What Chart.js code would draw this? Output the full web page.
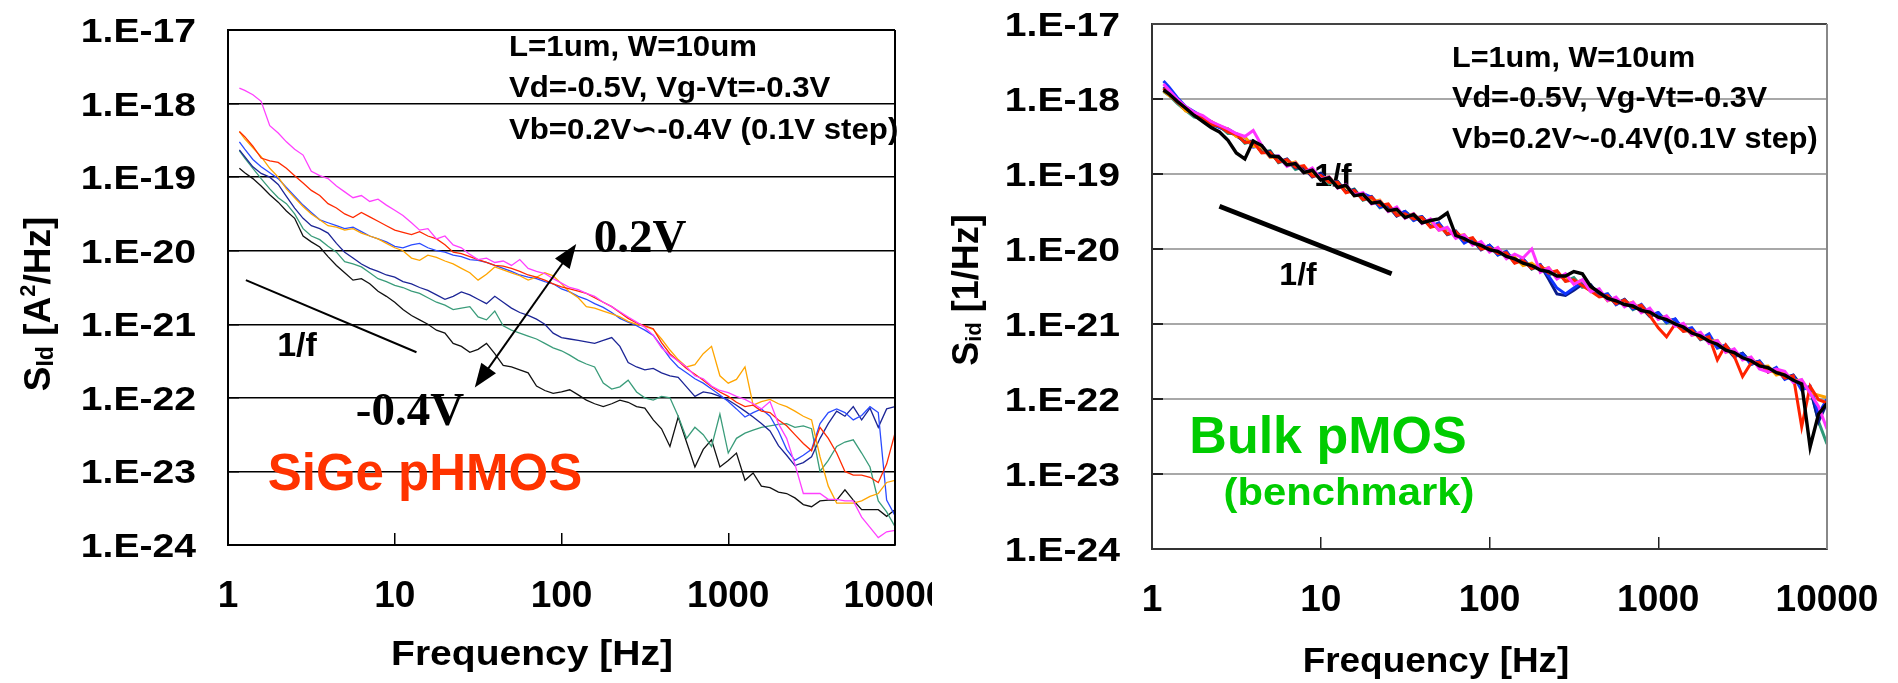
<!DOCTYPE html>
<html>
<head>
<meta charset="utf-8">
<title>1/f noise: SiGe pHMOS vs Bulk pMOS</title>
<script src="https://cdn.jsdelivr.net/npm/chart.js@4.4.1/dist/chart.umd.min.js"></script>
<style>
  html, body { margin: 0; padding: 0; background: #fff; }
  body { position: relative; width: 1898px; height: 683px; overflow: hidden; }
  .panel { position: absolute; top: 0; height: 683px; overflow: hidden; }
  #sigePanel { left: 0; width: 932px; }
  #bulkPanel { left: 932px; width: 966px; }
</style>
</head>
<body>
<div class="panel" id="sigePanel"><canvas id="sigeChart" width="932" height="683"></canvas></div>
<div class="panel" id="bulkPanel"><canvas id="bulkChart" width="966" height="683"></canvas></div>
<script>
// frequency points (Hz) shared by all traces
const freqHz = [
    1.17, 1.26, 1.41, 1.58, 1.78, 2, 2.24, 2.51, 2.82, 3.16,
    3.55, 3.98, 4.47, 5.01, 5.62, 6.31, 7.08, 7.94, 8.91, 10,
    11.2, 12.6, 14.1, 15.8, 17.8, 20, 22.4, 25.1, 28.2, 31.6,
    35.5, 39.8, 44.7, 50.1, 56.2, 63.1, 70.8, 79.4, 89.1, 100,
    112, 126, 141, 158, 178, 200, 224, 251, 282, 316,
    355, 398, 447, 501, 562, 631, 708, 794, 891, 1000,
    1120, 1260, 1410, 1580, 1780, 2000, 2240, 2510, 2820, 3160,
    3550, 3980, 4470, 5010, 5620, 6310, 7080, 7940, 8910, 10000
];

const xTickValues = [1, 10, 100, 1000, 10000];
const xTickLabels = ['1', '10', '100', '1000', '10000'];
const yTickValues = [1e-24, 1e-23, 1e-22, 1e-21, 1e-20, 1e-19, 1e-18, 1e-17];
const yTickLabels = ['1.E-24', '1.E-23', '1.E-22', '1.E-21', '1.E-20', '1.E-19', '1.E-18', '1.E-17'];

const vbLabels = ['Vb=0.2V', 'Vb=0.1V', 'Vb=0V', 'Vb=-0.1V', 'Vb=-0.2V', 'Vb=-0.3V', 'Vb=-0.4V'];

// SiGe pHMOS: log10(Sid)
const sigeVb02 = [
    -17.79, -17.82, -17.88, -17.97, -18.30, -18.40, -18.52, -18.62, -18.70, -18.92,
    -18.98, -19.02, -19.12, -19.20, -19.28, -19.25, -19.33, -19.30, -19.38, -19.45,
    -19.52, -19.62, -19.72, -19.70, -19.84, -19.80, -19.92, -19.96, -20.05, -20.12,
    -20.10, -20.16, -20.14, -20.20, -20.12, -20.24, -20.28, -20.31, -20.38, -20.44,
    -20.50, -20.53, -20.58, -20.62, -20.70, -20.76, -20.83, -20.90, -20.97, -21.04,
    -21.15, -21.32, -21.42, -21.50, -21.58, -21.70, -21.74, -21.84, -21.90, -21.93,
    -21.98, -22.02, -22.08, -22.15, -22.05, -22.35, -22.55, -22.90, -23.30, -23.30,
    -23.30, -23.38, -23.38, -23.40, -23.40, -23.62, -23.76, -23.90, -23.82, -23.80
];
const sigeVb01 = [
    -18.38, -18.45, -18.58, -18.74, -18.78, -18.80, -18.88, -18.98, -19.08, -19.18,
    -19.25, -19.36, -19.42, -19.50, -19.55, -19.48, -19.54, -19.60, -19.66, -19.72,
    -19.75, -19.78, -19.74, -19.80, -19.84, -19.92, -20.02, -20.04, -20.08, -20.12,
    -20.16, -20.20, -20.21, -20.24, -20.28, -20.33, -20.36, -20.40, -20.45, -20.49,
    -20.52, -20.55, -20.58, -20.64, -20.70, -20.76, -20.84, -20.92, -20.98, -21.02,
    -21.06, -21.25, -21.40, -21.50, -21.60, -21.68, -21.76, -21.85, -21.92, -21.98,
    -22.06, -22.12, -22.10, -22.18, -22.20, -22.30, -22.38, -22.50, -22.62, -22.72,
    -22.40, -22.55, -22.75, -23.00, -23.05, -23.05, -23.08, -23.15, -22.90, -22.48
];
const sigeVb00 = [
    -18.38, -18.48, -18.60, -18.72, -18.88, -19.00, -19.16, -19.28, -19.40, -19.50,
    -19.58, -19.66, -19.68, -19.72, -19.70, -19.76, -19.80, -19.84, -19.90, -19.96,
    -20.00, -20.10, -20.13, -20.06, -20.09, -20.14, -20.18, -20.24, -20.30, -20.40,
    -20.32, -20.22, -20.26, -20.30, -20.34, -20.40, -20.36, -20.30, -20.34, -20.45,
    -20.56, -20.64, -20.76, -20.78, -20.82, -20.86, -20.90, -20.96, -21.00, -21.03,
    -21.07, -21.20, -21.35, -21.48, -21.58, -21.55, -21.40, -21.30, -21.70, -21.80,
    -21.75, -21.58, -22.10, -22.05, -22.02, -22.08, -22.12, -22.18, -22.25, -22.30,
    -22.80, -23.20, -23.43, -23.43, -23.43, -23.40, -23.34, -23.30, -23.15, -23.12
];
const sigeVbm01 = [
    -18.52, -18.62, -18.76, -18.86, -18.94, -19.02, -19.14, -19.26, -19.38, -19.48,
    -19.58, -19.62, -19.66, -19.70, -19.68, -19.74, -19.80, -19.84, -19.88, -19.94,
    -19.96, -19.92, -19.90, -19.96, -20.00, -20.02, -20.06, -20.08, -20.12, -20.13,
    -20.16, -20.20, -20.24, -20.28, -20.33, -20.36, -20.38, -20.42, -20.45, -20.52,
    -20.56, -20.62, -20.66, -20.72, -20.77, -20.84, -20.92, -20.97, -21.02, -21.08,
    -21.15, -21.30, -21.46, -21.58, -21.66, -21.74, -21.80, -21.88, -21.96, -22.05,
    -22.15, -22.26, -22.20, -22.15, -22.25, -22.45, -22.70, -22.85, -22.78, -22.70,
    -22.35, -22.20, -22.15, -22.20, -22.30, -22.24, -22.12, -22.20, -23.39, -23.60
];
const sigeVbm02 = [
    -18.63, -18.72, -18.86, -18.95, -19.00, -19.10, -19.26, -19.42, -19.56, -19.66,
    -19.70, -19.76, -19.90, -20.02, -20.10, -20.18, -20.24, -20.28, -20.33, -20.36,
    -20.42, -20.45, -20.50, -20.54, -20.60, -20.66, -20.62, -20.56, -20.60, -20.66,
    -20.72, -20.62, -20.70, -20.78, -20.84, -20.88, -20.93, -21.00, -21.12, -21.18,
    -21.20, -21.22, -21.24, -21.26, -21.22, -21.18, -21.30, -21.52, -21.58, -21.62,
    -21.60, -21.66, -21.70, -21.72, -21.85, -21.98, -21.92, -21.94, -21.98, -22.03,
    -22.10, -22.18, -22.26, -22.35, -22.45, -22.65, -22.78, -22.92, -22.88, -22.80,
    -22.55, -22.35, -22.18, -22.25, -22.12, -22.30, -22.14, -22.40, -22.15, -22.12
];
const sigeVbm03 = [
    -18.64, -18.74, -18.88, -19.02, -19.16, -19.28, -19.36, -19.50, -19.70, -19.80,
    -19.85, -19.94, -20.02, -20.15, -20.18, -20.22, -20.30, -20.38, -20.42, -20.47,
    -20.50, -20.55, -20.58, -20.64, -20.70, -20.74, -20.80, -20.78, -20.76, -20.90,
    -20.94, -20.82, -21.02, -21.08, -21.12, -21.16, -21.20, -21.26, -21.32, -21.36,
    -21.42, -21.49, -21.54, -21.58, -21.80, -21.88, -21.85, -21.76, -21.92, -22.00,
    -22.03, -21.98, -22.00, -22.25, -22.55, -22.40, -22.50, -22.66, -22.22, -22.75,
    -22.55, -22.48, -22.44, -22.40, -22.38, -22.36, -22.35, -22.40, -22.38, -22.42,
    -23.00, -22.85, -22.66, -22.60, -22.57, -22.75, -22.94, -23.40, -23.55, -23.75
];
const sigeVbm04 = [
    -18.88, -18.94, -19.02, -19.12, -19.24, -19.34, -19.46, -19.56, -19.80, -19.88,
    -19.95, -20.08, -20.20, -20.30, -20.40, -20.38, -20.45, -20.55, -20.62, -20.70,
    -20.80, -20.88, -20.94, -21.00, -21.08, -21.12, -21.26, -21.30, -21.38, -21.34,
    -21.26, -21.40, -21.56, -21.58, -21.62, -21.66, -21.84, -21.90, -21.94, -21.92,
    -21.89, -21.96, -22.03, -22.08, -22.12, -22.08, -22.03, -22.06, -22.12, -22.14,
    -22.30, -22.42, -22.66, -22.26, -22.60, -22.94, -22.70, -22.57, -22.94, -22.85,
    -22.75, -23.12, -23.02, -23.20, -23.22, -23.28, -23.30, -23.36, -23.45, -23.48,
    -23.40, -23.39, -23.39, -23.25, -23.39, -23.52, -23.52, -23.52, -23.61, -23.52
];

// Bulk pMOS: log10(Sid)
const bulkVb02 = [
    -17.80, -17.88, -18.00, -18.10, -18.18, -18.22, -18.30, -18.35, -18.40, -18.46,
    -18.50, -18.42, -18.62, -18.77, -18.76, -18.90, -18.85, -18.98, -18.92, -19.07,
    -19.04, -19.19, -19.14, -19.28, -19.25, -19.40, -19.36, -19.50, -19.44, -19.59,
    -19.53, -19.66, -19.60, -19.75, -19.71, -19.86, -19.81, -19.95, -19.90, -20.04,
    -19.98, -20.13, -20.07, -20.12, -20.00, -20.31, -20.25, -20.40, -20.33, -20.47,
    -20.41, -20.57, -20.53, -20.69, -20.64, -20.77, -20.71, -20.85, -20.79, -20.94,
    -20.89, -21.03, -20.99, -21.15, -21.11, -21.26, -21.22, -21.38, -21.33, -21.48,
    -21.44, -21.60, -21.64, -21.60, -21.63, -21.78, -21.74, -21.92, -22.10, -22.40
];
const bulkVb01 = [
    -17.86, -17.93, -18.04, -18.12, -18.22, -18.25, -18.34, -18.36, -18.44, -18.47,
    -18.58, -18.57, -18.72, -18.71, -18.84, -18.81, -18.91, -18.89, -19.03, -19.02,
    -19.11, -19.11, -19.25, -19.22, -19.34, -19.31, -19.42, -19.40, -19.55, -19.53,
    -19.60, -19.58, -19.71, -19.68, -19.80, -19.77, -19.88, -19.85, -20.00, -19.98,
    -20.06, -20.05, -20.19, -20.15, -20.26, -20.22, -20.32, -20.29, -20.43, -20.41,
    -20.49, -20.56, -20.64, -20.62, -20.73, -20.68, -20.78, -20.75, -20.89, -21.05,
    -21.17, -21.00, -21.10, -21.08, -21.20, -21.17, -21.48, -21.28, -21.43, -21.70,
    -21.52, -21.51, -21.64, -21.61, -21.72, -21.69, -22.37, -21.83, -22.01, -22.05
];
const bulkVb00 = [
    -17.89, -17.95, -18.03, -18.16, -18.19, -18.28, -18.30, -18.36, -18.40, -18.50,
    -18.51, -18.63, -18.64, -18.78, -18.77, -18.87, -18.84, -18.98, -18.97, -19.06,
    -19.04, -19.17, -19.17, -19.29, -19.27, -19.37, -19.35, -19.49, -19.49, -19.57,
    -19.53, -19.64, -19.63, -19.75, -19.73, -19.83, -19.81, -19.94, -19.94, -20.02,
    -19.99, -20.11, -20.11, -20.22, -20.19, -20.28, -20.25, -20.38, -20.37, -20.45,
    -20.42, -20.55, -20.56, -20.69, -20.66, -20.74, -20.71, -20.84, -20.83, -20.92,
    -20.90, -21.01, -21.02, -21.15, -21.13, -21.23, -21.22, -21.37, -21.37, -21.46,
    -21.45, -21.57, -21.56, -21.68, -21.65, -21.75, -21.75, -21.92, -21.95, -21.98
];
const bulkVbm01 = [
    -17.76, -17.84, -17.98, -18.10, -18.17, -18.24, -18.30, -18.38, -18.40, -18.47,
    -18.51, -18.64, -18.62, -18.77, -18.76, -18.89, -18.85, -18.98, -18.94, -19.07,
    -19.04, -19.18, -19.15, -19.28, -19.26, -19.31, -19.44, -19.41, -19.54, -19.50,
    -19.62, -19.57, -19.70, -19.65, -19.80, -19.78, -19.92, -19.86, -20.00, -19.95,
    -20.08, -20.03, -20.18, -20.13, -20.26, -20.21, -20.36, -20.52, -20.60, -20.52,
    -20.44, -20.50, -20.62, -20.60, -20.74, -20.68, -20.80, -20.74, -20.88, -20.85,
    -20.98, -20.93, -21.08, -21.05, -21.20, -21.13, -21.32, -21.28, -21.42, -21.40,
    -21.54, -21.49, -21.64, -21.58, -21.74, -21.69, -21.88, -21.83, -22.20, -22.00
];
const bulkVbm02 = [
    -17.84, -17.91, -18.03, -18.14, -18.21, -18.27, -18.33, -18.38, -18.43, -18.49,
    -18.57, -18.56, -18.71, -18.70, -18.84, -18.80, -18.92, -18.92, -19.04, -18.99,
    -19.10, -19.10, -19.24, -19.21, -19.34, -19.30, -19.43, -19.43, -19.56, -19.50,
    -19.59, -19.57, -19.70, -19.67, -19.80, -19.76, -19.89, -19.88, -20.01, -19.95,
    -20.05, -20.04, -20.18, -20.14, -20.26, -20.21, -20.40, -20.60, -20.62, -20.55,
    -20.47, -20.48, -20.63, -20.61, -20.73, -20.67, -20.79, -20.78, -20.90, -20.85,
    -20.96, -20.94, -21.09, -21.07, -21.20, -21.16, -21.30, -21.31, -21.44, -21.39,
    -21.51, -21.50, -21.63, -21.60, -21.72, -21.68, -21.83, -21.86, -22.30, -22.05
];
const bulkVbm03 = [
    -17.90, -17.95, -18.06, -18.15, -18.24, -18.26, -18.36, -18.36, -18.46, -18.46,
    -18.59, -18.56, -18.71, -18.69, -18.85, -18.81, -18.94, -18.90, -19.03, -18.99,
    -19.13, -19.10, -19.24, -19.20, -19.35, -19.31, -19.45, -19.41, -19.55, -19.50,
    -19.62, -19.57, -19.70, -19.66, -19.81, -19.77, -19.91, -19.86, -20.00, -19.95,
    -20.08, -20.04, -20.18, -20.13, -20.27, -20.22, -20.35, -20.30, -20.43, -20.38,
    -20.51, -20.48, -20.63, -20.60, -20.74, -20.68, -20.81, -20.76, -20.89, -20.85,
    -20.99, -20.94, -21.09, -21.06, -21.21, -21.17, -21.32, -21.29, -21.43, -21.39,
    -21.54, -21.50, -21.63, -21.59, -21.73, -21.69, -21.85, -21.84, -22.30, -22.60
];
const bulkVbm04 = [
    -17.88, -17.93, -18.03, -18.12, -18.22, -18.30, -18.38, -18.44, -18.55, -18.72,
    -18.80, -18.56, -18.62, -18.76, -18.77, -18.88, -18.86, -18.98, -18.95, -19.08,
    -19.05, -19.18, -19.15, -19.29, -19.27, -19.39, -19.37, -19.49, -19.47, -19.58,
    -19.54, -19.65, -19.62, -19.60, -19.52, -19.82, -19.86, -19.92, -19.95, -20.01,
    -20.03, -20.10, -20.13, -20.19, -20.22, -20.28, -20.30, -20.36, -20.36, -20.30,
    -20.33, -20.50, -20.58, -20.66, -20.69, -20.74, -20.76, -20.82, -20.84, -20.91,
    -20.94, -21.00, -21.04, -21.12, -21.16, -21.23, -21.27, -21.35, -21.38, -21.45,
    -21.49, -21.56, -21.58, -21.65, -21.68, -21.75, -21.80, -22.64, -22.20, -22.06
];

// 1/f guide segments and the Vb arrow (data units: Hz, log10 Sid)
const sigeGuideFreq = [1.28, 13.5];
const sigeGuideLog = [-20.40, -21.38];
const bulkGuideFreq = [2.51, 26.3];
const bulkGuideLog = [-19.43, -20.33];
const arrowFreq = [30.2, 122.5];
const arrowLog = [-21.86, -19.91];

const SANS = '"Liberation Sans", Arial, sans-serif';
const SERIF = '"Liberation Serif", "Times New Roman", serif';

function points(freqs, logs) {
    return freqs.map((f, i) => ({ x: f, y: Math.pow(10, logs[i]) }));
}

function drawText(ctx, t) {
    ctx.save();
    ctx.translate(t.x, t.y);
    ctx.scale(t.sx || 1, 1);
    ctx.font = t.font;
    ctx.fillStyle = t.color || '#000';
    ctx.textAlign = t.align || 'left';
    ctx.textBaseline = 'alphabetic';
    ctx.fillText(t.text, 0, 0);
    ctx.restore();
}

function drawYTitle(ctx, parts, cx, cy, base) {
    ctx.save();
    ctx.translate(cx, cy);
    ctx.rotate(-Math.PI / 2);
    let total = 0;
    parts.forEach(p => {
        ctx.font = `bold ${p.size}px ${SANS}`;
        total += ctx.measureText(p.text).width;
    });
    let x = -total / 2;
    ctx.fillStyle = '#000';
    ctx.textBaseline = 'alphabetic';
    parts.forEach(p => {
        ctx.font = `bold ${p.size}px ${SANS}`;
        ctx.fillText(p.text, x, base + (p.dy || 0));
        x += ctx.measureText(p.text).width;
    });
    ctx.restore();
}

function drawArrow(ctx, x1, y1, x2, y2) {
    const ang = Math.atan2(y2 - y1, x2 - x1);
    const len = 24, half = 9;
    ctx.save();
    ctx.strokeStyle = '#000';
    ctx.fillStyle = '#000';
    ctx.lineWidth = 2;
    ctx.beginPath();
    ctx.moveTo(x1 + Math.cos(ang) * 10, y1 + Math.sin(ang) * 10);
    ctx.lineTo(x2 - Math.cos(ang) * 10, y2 - Math.sin(ang) * 10);
    ctx.stroke();
    [[x2, y2, ang], [x1, y1, ang + Math.PI]].forEach(([tx, ty, a]) => {
        const bx = tx - Math.cos(a) * len, by = ty - Math.sin(a) * len;
        ctx.beginPath();
        ctx.moveTo(tx, ty);
        ctx.lineTo(bx + Math.sin(a) * half, by - Math.cos(a) * half);
        ctx.lineTo(bx - Math.sin(a) * half, by + Math.cos(a) * half);
        ctx.closePath();
        ctx.fill();
    });
    ctx.restore();
}

function decorations(cfg) {
    return {
        id: 'decorations',
        beforeDatasetsDraw(chart) {
            (cfg.under || []).forEach(t => drawText(chart.ctx, t));
        },
        afterDraw(chart) {
            const ctx = chart.ctx;
            const area = chart.chartArea;
            const xs = chart.scales.x, ys = chart.scales.y;

            ctx.save();
            ctx.lineWidth = 2;
            ctx.strokeStyle = cfg.topColor;
            ctx.beginPath();
            ctx.moveTo(area.left, area.top);
            ctx.lineTo(area.right, area.top);
            ctx.stroke();
            ctx.strokeStyle = cfg.rightColor;
            ctx.beginPath();
            ctx.moveTo(area.right, area.top);
            ctx.lineTo(area.right, area.bottom);
            ctx.stroke();
            ctx.restore();

            yTickValues.forEach((v, i) => {
                drawText(ctx, {
                    text: yTickLabels[i], x: area.left - 32, y: ys.getPixelForValue(v) + 12,
                    font: `bold 34px ${SANS}`, align: 'right', sx: 1.15
                });
            });

            drawYTitle(ctx, cfg.yTitle, cfg.yTitleX, cfg.yTitleY, cfg.yTitleBase);

            if (cfg.arrow) {
                drawArrow(ctx,
                    xs.getPixelForValue(arrowFreq[0]), ys.getPixelForValue(Math.pow(10, arrowLog[0])),
                    xs.getPixelForValue(arrowFreq[1]), ys.getPixelForValue(Math.pow(10, arrowLog[1])));
            }

            cfg.texts.forEach(t => drawText(ctx, t));
        }
    };
}

function makeChart(canvasId, cfg) {
    return new Chart(document.getElementById(canvasId).getContext('2d'), {
        type: 'line',
        data: { datasets: cfg.datasets },
        options: {
            responsive: false,
            animation: false,
            devicePixelRatio: 1,
            layout: { padding: cfg.padding },
            plugins: { legend: { display: false }, tooltip: { enabled: false } },
            elements: { point: { radius: 0 } },
            scales: {
                x: {
                    type: 'logarithmic',
                    min: 1,
                    max: 10000,
                    afterBuildTicks: s => { s.ticks = xTickValues.map(v => ({ value: v })); },
                    afterFit: s => { s.height = cfg.xHeight; s.paddingLeft = 0; s.paddingRight = 0; },
                    ticks: {
                        callback: (v, i) => xTickLabels[i],
                        autoSkip: false,
                        maxRotation: 0,
                        padding: 42,
                        color: '#000',
                        font: { family: SANS, size: 37, weight: 'bold' }
                    },
                    grid: { drawOnChartArea: false, tickLength: -12, color: cfg.tickColor, lineWidth: 1.5 },
                    border: { color: cfg.borderColor, width: 2 }
                },
                y: {
                    type: 'logarithmic',
                    min: 1e-24,
                    max: 1e-17,
                    afterBuildTicks: s => { s.ticks = yTickValues.map(v => ({ value: v })); },
                    afterFit: s => { s.width = cfg.yWidth; s.paddingTop = 0; s.paddingBottom = 0; },
                    ticks: { display: false },
                    grid: { color: cfg.gridColor, lineWidth: cfg.gridWidth, tickLength: -11, tickColor: cfg.tickColor },
                    border: { color: cfg.borderColor, width: 2 }
                }
            }
        },
        plugins: [decorations(cfg)]
    });
}

const sigeSeries = [sigeVb02, sigeVb01, sigeVb00, sigeVbm01, sigeVbm02, sigeVbm03, sigeVbm04];
const sigeColors = ['#FF40FF', '#FF2A00', '#FFA500', '#2B4BFF', '#1C2596', '#3A9C7A', '#111111'];
const bulkSeries = [bulkVb02, bulkVb01, bulkVb00, bulkVbm01, bulkVbm02, bulkVbm03, bulkVbm04];
const bulkColors = ['#FF33FF', '#FF2200', '#FFA200', '#1034FF', '#0A1C8C', '#2E9978', '#000000'];

window.addEventListener('load', function () {
    const sigeSets = sigeSeries.map((vals, i) => ({
        label: vbLabels[i],
        data: points(freqHz, vals),
        borderColor: sigeColors[i],
        borderWidth: 1.3,
        fill: false
    }));
    sigeSets.push({
        label: '1/f',
        data: points(sigeGuideFreq, sigeGuideLog),
        borderColor: '#000',
        borderWidth: 2,
        fill: false
    });

    makeChart('sigeChart', {
        datasets: sigeSets,
        padding: { left: 0, top: 30, right: 37, bottom: 0 },
        yWidth: 228,
        xHeight: 138,
        gridColor: '#000',
        gridWidth: 1.5,
        tickColor: '#000',
        borderColor: '#000',
        topColor: '#000',
        rightColor: '#000',
        arrow: true,
        yTitle: [
            { text: 'S', size: 37 },
            { text: 'Id', size: 23, dy: 3 },
            { text: ' [A', size: 37 },
            { text: '2', size: 22, dy: -15 },
            { text: '/Hz]', size: 37 }
        ],
        yTitleX: 39, yTitleY: 304, yTitleBase: 11,
        texts: [
            { text: 'L=1um, W=10um', x: 509, y: 56, font: `bold 30px ${SANS}`, sx: 1.04 },
            { text: 'Vd=-0.5V, Vg-Vt=-0.3V', x: 509, y: 97, font: `bold 30px ${SANS}`, sx: 1.04 },
            { text: 'Vb=0.2V∽-0.4V (0.1V step)', x: 509, y: 139, font: `bold 30px ${SANS}`, sx: 1.04 },
            { text: '1/f', x: 297, y: 356, font: `bold 34px ${SANS}`, align: 'center' },
            { text: '0.2V', x: 640, y: 252, font: `bold 47px ${SERIF}`, align: 'center' },
            { text: '-0.4V', x: 410, y: 425, font: `bold 47px ${SERIF}`, align: 'center' },
            { text: 'SiGe pHMOS', x: 425, y: 490, font: `bold 51px ${SANS}`, color: '#FF3300', align: 'center' },
            { text: 'Frequency [Hz]', x: 532, y: 665, font: `bold 35px ${SANS}`, align: 'center', sx: 1.115 }
        ]
    });

    const bulkSets = bulkSeries.map((vals, i) => ({
        label: vbLabels[i],
        data: points(freqHz, vals),
        borderColor: bulkColors[i],
        borderWidth: i === 6 ? 3.4 : 3,
        order: i === 6 ? -1 : 1,
        fill: false
    }));
    bulkSets.push({
        label: '1/f',
        data: points(bulkGuideFreq, bulkGuideLog),
        borderColor: '#000',
        borderWidth: 5,
        fill: false
    });

    makeChart('bulkChart', {
        datasets: bulkSets,
        padding: { left: 0, top: 24, right: 71, bottom: 0 },
        yWidth: 220,
        xHeight: 134,
        gridColor: '#A8A8A8',
        gridWidth: 2,
        tickColor: '#222',
        borderColor: '#333',
        topColor: '#444',
        rightColor: '#888',
        arrow: false,
        yTitle: [
            { text: 'S', size: 36 },
            { text: 'id', size: 22, dy: 3 },
            { text: ' [1/Hz]', size: 36 }
        ],
        yTitleX: 36, yTitleY: 290, yTitleBase: 10,
        under: [
            { text: '1/f', x: 401, y: 186, font: `bold 32px ${SANS}`, align: 'center' }
        ],
        texts: [
            { text: 'L=1um, W=10um', x: 520, y: 67, font: `bold 30px ${SANS}`, sx: 1.02 },
            { text: 'Vd=-0.5V, Vg-Vt=-0.3V', x: 520, y: 107, font: `bold 30px ${SANS}`, sx: 1.02 },
            { text: 'Vb=0.2V~-0.4V(0.1V step)', x: 520, y: 148, font: `bold 30px ${SANS}`, sx: 1.02 },
            { text: '1/f', x: 366, y: 285, font: `bold 32px ${SANS}`, align: 'center' },
            { text: 'Bulk pMOS', x: 396, y: 453, font: `bold 52px ${SANS}`, color: '#00CC00', align: 'center' },
            { text: '(benchmark)', x: 417, y: 505, font: `bold 38px ${SANS}`, color: '#00CC00', align: 'center', sx: 1.1 },
            { text: 'Frequency [Hz]', x: 504, y: 672, font: `bold 35px ${SANS}`, align: 'center', sx: 1.055 }
        ]
    });
});
</script>
</body>
</html>
